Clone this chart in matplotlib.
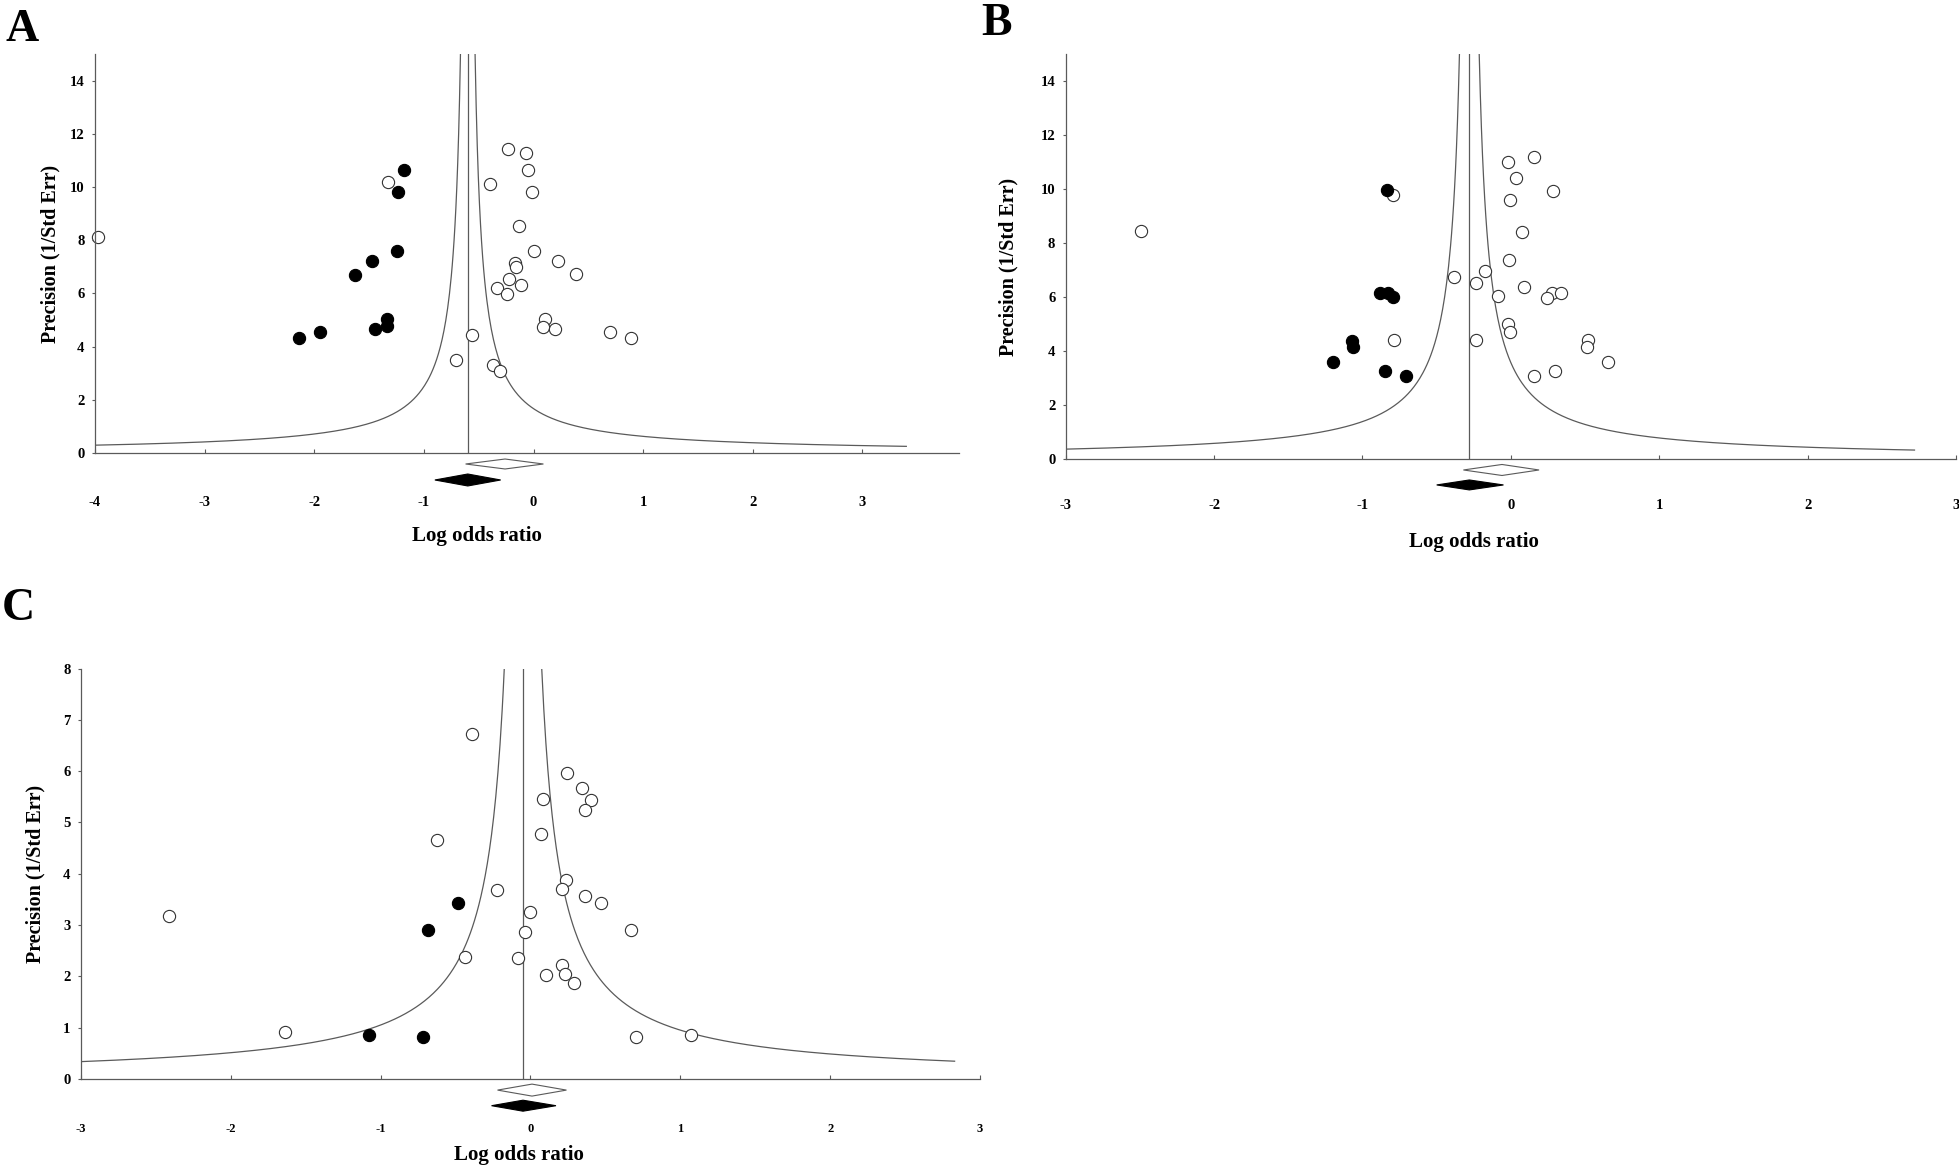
import numpy as np
import matplotlib.pyplot as plt
from matplotlib import transforms

plt.rcParams.update({
    "font.family": "serif",
    "font.serif": ["Liberation Serif", "DejaVu Serif"],
    "font.weight": "bold",
    "axes.linewidth": 0.9,
})

GREY = "#5a5a5a"

# ---- panel A: observed (open) and imputed (filled) studies
a_obs_x = [-3.97, -1.33, -0.40, -0.23, -0.07, -0.055, -0.015, -0.13, 0.008, 0.225,
           -0.17, -0.16, 0.385, -0.22, -0.11, -0.33, -0.24, 0.10, 0.09, 0.20,
           0.70, 0.89, -0.56, -0.71, -0.37, -0.31]
a_obs_y = [8.11, 10.19, 10.10, 11.43, 11.27, 10.65, 9.80, 8.53, 7.60, 7.21,
           7.14, 6.98, 6.73, 6.53, 6.32, 6.21, 5.97, 5.04, 4.75, 4.65,
           4.55, 4.31, 4.45, 3.50, 3.32, 3.09]
a_imp_x = [-1.18, -1.235, -1.25, -1.47, -1.63, -1.34, -1.34, -1.45, -1.95, -2.14]
a_imp_y = [10.65, 9.80, 7.60, 7.21, 6.70, 5.04, 4.77, 4.66, 4.55, 4.31]
a_observed = (-0.26, -0.62, 0.09)   # estimate, lower, upper
a_adjusted = (-0.60, -0.90, -0.30)

# ---- panel B
b_obs_x = [-2.49, -0.796, -0.383, -0.177, -0.236, -0.084, -0.787, -0.236, -0.017, 0.156,
           0.034, 0.282, -0.004, 0.076, -0.013, 0.088, 0.274, 0.337, 0.244, -0.021,
           -0.008, 0.522, 0.514, 0.653, 0.295, 0.156]
b_obs_y = [8.46, 9.79, 6.74, 6.96, 6.52, 6.05, 4.42, 4.41, 11.00, 11.19,
           10.43, 9.94, 9.59, 8.41, 7.39, 6.38, 6.17, 6.17, 5.98, 5.00,
           4.70, 4.42, 4.16, 3.59, 3.28, 3.08]
b_imp_x = [-0.834, -0.884, -0.825, -0.796, -1.07, -1.065, -1.20, -0.846, -0.707]
b_imp_y = [9.97, 6.17, 6.17, 5.99, 4.38, 4.15, 3.59, 3.28, 3.09]
b_observed = (-0.06, -0.32, 0.19)
b_adjusted = (-0.28, -0.50, -0.05)

# ---- panel C
c_obs_x = [-0.39, 0.243, 0.345, 0.081, 0.404, 0.366, 0.072, -0.626, 0.234, -0.226,
           0.209, 0.362, 0.472, -2.41, -0.004, -0.034, 0.672, -0.434, -0.081, 0.213,
           0.102, 0.230, 0.289, -1.638, 0.706, 1.068]
c_obs_y = [6.72, 5.97, 5.67, 5.46, 5.44, 5.24, 4.77, 4.66, 3.88, 3.69,
           3.71, 3.56, 3.43, 3.18, 3.25, 2.86, 2.90, 2.38, 2.35, 2.23,
           2.03, 2.05, 1.88, 0.91, 0.82, 0.86]
c_imp_x = [-0.485, -0.685, -1.08, -0.72]
c_imp_y = [3.43, 2.90, 0.85, 0.81]
c_observed = (0.01, -0.22, 0.24)
c_adjusted = (-0.05, -0.26, 0.17)


def diamond(ax, est, lo, hi, yc, h, filled):
    trans = transforms.blended_transform_factory(ax.transData, ax.transAxes)
    xs = [lo, est, hi, est, lo]
    ys = [yc, yc + h, yc, yc - h, yc]
    ax.fill(xs, ys, transform=trans, clip_on=False,
            facecolor="black" if filled else "white",
            edgecolor="black" if filled else GREY, linewidth=0.8)


def panel(fig, rect, obs_x, obs_y, imp_x, imp_y, observed, adjusted,
          xlim, ylim, xticks, yticks, funnel_right, xlabel_pos, ylabel_pos,
          d_open, d_fill, xpad, xticks_font=10):
    ax = fig.add_axes(rect)
    c = adjusted[0]
    ytop = ylim[1]

    # pseudo confidence limits
    xl = np.linspace(xlim[0], c - 1.0 / ytop, 400)
    xr = np.linspace(c + 1.0 / ytop, funnel_right, 400)
    ax.plot(xl, 1.0 / np.abs(xl - c), color=GREY, lw=0.9)
    ax.plot(xr, 1.0 / np.abs(xr - c), color=GREY, lw=0.9)
    ax.plot([c, c], [0, ytop], color=GREY, lw=0.9)

    ax.plot(obs_x, obs_y, "o", ms=8.8, mfc="white", mec="#333333", mew=0.8,
            clip_on=False)
    ax.plot(imp_x, imp_y, "o", ms=8.8, mfc="black", mec="black", mew=0.8)

    diamond(ax, *observed, d_open[0], d_open[1], False)
    diamond(ax, *adjusted, d_fill[0], d_fill[1], True)

    ax.set_xlim(xlim)
    ax.set_ylim(ylim)
    ax.set_xticks(xticks)
    ax.set_yticks(yticks)
    ax.set_xticklabels([f"{t:g}" for t in xticks])
    for s in ("top", "right"):
        ax.spines[s].set_visible(False)
    for s in ("left", "bottom"):
        ax.spines[s].set_color(GREY)
    ax.tick_params(axis="x", direction="in", length=3, width=0.8, color=GREY,
                   pad=xpad, labelsize=xticks_font)
    ax.tick_params(axis="y", direction="out", length=2.5, width=0.8, color=GREY,
                   pad=5, labelsize=10.5)

    ax.text(xlabel_pos[0], xlabel_pos[1], "Log odds ratio", transform=ax.transAxes,
            ha="center", va="center", fontsize=15, fontweight="bold")
    ax.text(ylabel_pos[0], ylabel_pos[1], "Precision (1/Std Err)", transform=ax.transAxes,
            ha="center", va="center", rotation=90, fontsize=14.5, fontweight="bold")
    return ax


def main() -> None:
    fig = plt.figure(figsize=(19.59, 11.66), dpi=100)

    panel(fig, [0.0485, 0.6115, 0.441, 0.342], a_obs_x, a_obs_y, a_imp_x, a_imp_y,
          a_observed, a_adjusted, (-4, 3.88), (0, 15), range(-4, 4), range(0, 15, 2),
          3.4, (0.442, -0.208), (-0.051, 0.5), (-0.0276, 0.0125), (-0.0677, 0.015), 31,
          xticks_font=10.5)

    panel(fig, [0.544, 0.6063, 0.4545, 0.347], b_obs_x, b_obs_y, b_imp_x, b_imp_y,
          b_observed, b_adjusted, (-3, 3), (0, 15), range(-3, 4), range(0, 15, 2),
          2.72, (0.459, -0.205), (-0.0647, 0.474), (-0.027, 0.0136), (-0.064, 0.0123), 29,
          xticks_font=10.5)

    panel(fig, [0.0413, 0.0746, 0.459, 0.352], c_obs_x, c_obs_y, c_imp_x, c_imp_y,
          c_observed, c_adjusted, (-3, 3), (0, 8), range(-3, 4), range(0, 9),
          2.83, (0.487, -0.185), (-0.051, 0.5), (-0.027, 0.0146), (-0.065, 0.0134), 32,
          xticks_font=9)

    for label, x, y in (("A", 0.003, 1 - 41 / 1166), ("B", 0.501, 1 - 35 / 1166),
                        ("C", 0.001, 1 - 620 / 1166)):
        fig.text(x, y, label, fontsize=33, fontweight="bold", va="baseline", ha="left")

    fig.savefig("out.png", dpi=100)
    plt.close(fig)


if __name__ == "__main__":
    main()
